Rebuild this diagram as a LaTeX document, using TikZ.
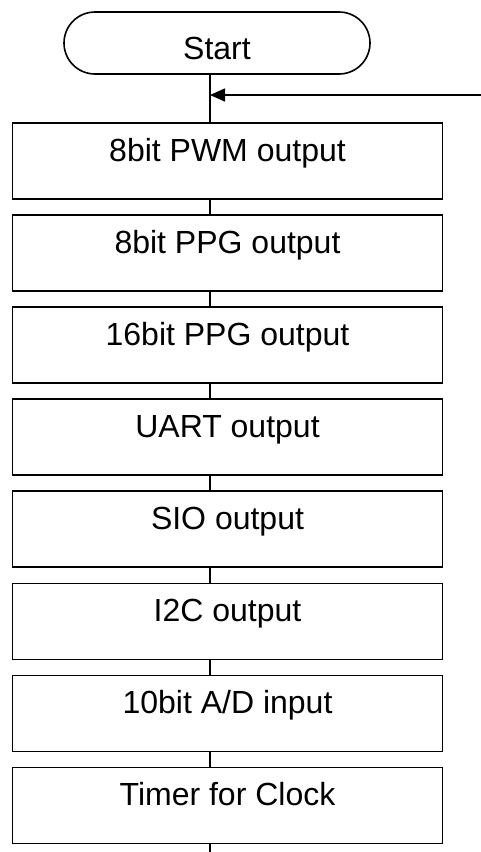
\documentclass[tikz,border=0pt]{standalone}
\usepackage{fontspec}
\setmainfont{Liberation Sans}
\usetikzlibrary{arrows.meta,shapes.misc}
\begin{document}
\begin{tikzpicture}[x=1pt,y=-1pt,line width=1.6pt,
  termbox/.style={draw,rounded rectangle,minimum width=306pt,minimum height=62pt,inner sep=0pt},
  stepbox/.style={draw,rectangle,minimum width=430pt,minimum height=76pt,inner sep=0pt},
  lab/.style={anchor=base,inner sep=0pt,font=\fontsize{32}{38}\selectfont},
  flow/.style={line width=1.6pt},
  loopin/.style={line width=1.6pt,-{Triangle[length=15pt,width=13pt]}}]
\useasboundingbox (0,0) rectangle (481,852);
\coordinate (spine) at (210,0);
\node[termbox] (start) at (217,43) {};
\node[lab] (tstart) at ([yshift=-16pt]start.center) {Start};
\foreach \i/\t in {1/{8bit PWM output},2/{8bit PPG output},3/{16bit PPG output},4/{UART output},5/{SIO output},6/{I2C output},7/{10bit A/D input},8/{Timer for Clock}}{
  \node[stepbox] (b\i) at (227.5,{160.8+92.1*(\i-1)}) {};
  \node[lab] (t\i) at ([yshift=-39pt]b\i.north) {\t};
}
\draw[flow] (start.south -| spine) -- (b1.north -| spine);
\foreach \i [evaluate=\i as \j using int(\i+1)] in {1,...,7}{
  \draw[flow] (b\i.south -| spine) -- (b\j.north -| spine);
}
\coordinate (endpt) at (210,852);
\draw[flow] (b8.south -| spine) -- (endpt);
\coordinate (loop) at (481,95);
\coordinate (join) at (210,95);
\draw[loopin] (loop) -- (join);
\end{tikzpicture}
\end{document}
